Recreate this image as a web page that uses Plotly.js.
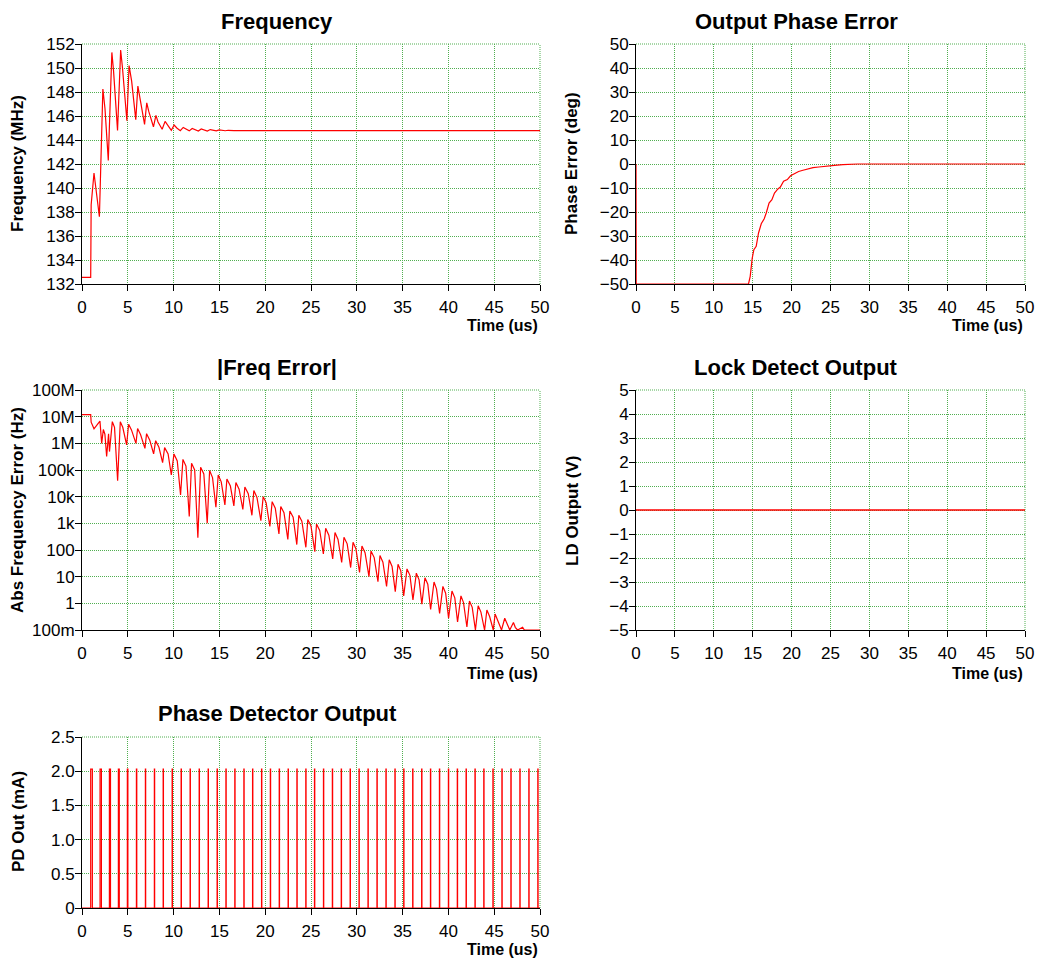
<!DOCTYPE html>
<html>
<head>
<meta charset="utf-8">
<script src="https://cdn.plot.ly/plotly-3.0.1.min.js"></script>
<style>
  html, body { margin: 0; padding: 0; background: #fff; }
  #chart { width: 1039px; height: 963px; }
</style>
</head>
<body>
<div id="chart"></div>
<script>
// ---------------- data ----------------
var xTickVals = [0, 5, 10, 15, 20, 25, 30, 35, 40, 45, 50];

// Frequency (MHz) vs time (us)
var freqT   = [0, 0.95, 1.0, 1.31, 1.9, 2.28, 2.51, 2.87, 3.26, 3.44, 3.88, 4.22, 4.42, 4.9, 5.14, 5.42, 5.87, 6.1, 6.37, 6.83, 7.07, 7.28, 7.8, 8.07, 8.3, 8.75, 9.07, 9.35, 9.75, 10.06, 10.35, 10.73, 11.05, 11.71, 12.03, 12.7, 13.02, 13.68, 14.0, 14.66, 14.98, 15.64, 15.96, 16.6, 50];
var freqMHz = [132.56, 132.56, 138.6, 141.25, 137.6, 148.25, 146.6, 142.3, 151.3, 149.8, 144.8, 151.5, 150.0, 145.6, 150.2, 148.9, 145.7, 148.5, 147.3, 145.3, 147.1, 146.4, 145.1, 146.05, 145.5, 144.9, 145.55, 145.2, 144.8, 145.25, 145.0, 144.78, 145.05, 144.76, 144.96, 144.75, 144.92, 144.75, 144.87, 144.76, 144.84, 144.77, 144.81, 144.78, 144.78];
var freqTicks = [132, 134, 136, 138, 140, 142, 144, 146, 148, 150, 152];

// Output phase error (deg)
var phaseT   = [0, 0.02, 14.46, 14.68, 14.94, 15.15, 15.45, 15.75, 16.1, 16.48, 16.74, 17.1, 17.47, 17.8, 18.24, 18.55, 18.97, 19.45, 19.87, 20.4, 20.9, 21.46, 22.1, 22.75, 23.5, 24.46, 25.5, 26.6, 27.47, 28.5, 50];
var phaseDeg = [0, -50, -50, -46.8, -39.2, -35.7, -34.3, -28.75, -24.9, -22.8, -20.4, -16.25, -14.9, -12.1, -10.4, -9.6, -7.2, -6.5, -4.9, -4.0, -3.1, -2.6, -2.1, -1.5, -1.25, -0.8, -0.55, -0.3, -0.1, 0, 0];
var phaseTicks = [-50, -40, -30, -20, -10, 0, 10, 20, 30, 40, 50];

// |Freq Error| (Hz)
var errT  = [0, 0.95, 1.0, 1.31, 1.96, 2.15, 2.33, 2.5, 2.69, 2.9, 3.0, 3.31, 3.55, 3.89, 4.18, 4.45, 4.87, 5.09, 5.4, 5.89, 6.07, 6.4, 6.87, 7.05, 7.4, 7.82, 8.04, 8.4, 8.8, 9.02, 9.4, 9.75, 10.04, 10.4, 10.76, 11.02, 11.35, 11.71, 11.96, 12.3, 12.65, 12.95, 13.3, 13.67, 13.93, 14.25, 14.62, 14.87, 15.2, 15.6, 15.82, 16.2, 16.58, 16.8, 17.15, 17.56, 17.78, 18.15, 18.55, 18.76, 19.1, 19.53, 19.78, 20.1, 20.51, 20.76, 21.1, 21.5, 21.7, 22.05, 22.47, 22.69, 23.05, 23.45, 23.67, 24.0, 24.44, 24.65, 25.0, 25.42, 25.6, 25.95, 26.35, 26.6, 26.95, 27.37, 27.62, 27.95, 28.35, 28.6, 28.95, 29.33, 29.59, 29.9, 30.3, 30.56, 30.9, 31.33, 31.55, 31.9, 32.31, 32.53, 32.85, 33.25, 33.54, 33.85, 34.2, 34.5, 34.8, 35.12, 35.48, 35.8, 36.13, 36.5, 36.8, 37.1, 37.44, 37.75, 38.06, 38.43, 38.7, 39.04, 39.4, 39.7, 40.02, 40.39, 40.7, 41.0, 41.37, 41.65, 42.02, 42.3, 42.6, 42.95, 43.25, 43.55, 43.95, 44.2, 44.5, 44.9, 45.1, 45.4, 45.8, 46.15, 46.4, 46.7, 47.1, 47.3, 47.55, 48.1, 48.3, 50];
var errHz = [1.2e7, 1.2e7, 6.2e6, 3.5e6, 6.8e6, 1.0e6, 3.3e6, 2.2e6, 3.2e5, 2.3e6, 4.9e5, 6.5e6, 4.0e6, 4.0e4, 6.5e6, 4.0e6, 8.7e5, 5.2e6, 3.2e6, 1.0e6, 3.6e6, 2.1e6, 6.5e5, 2.3e6, 1.3e6, 4.0e5, 1.26e6, 7.1e5, 1.9e5, 6.9e5, 4.0e5, 6.5e4, 4.0e5, 2.2e5, 1.15e4, 2.5e5, 1.4e5, 1.8e3, 1.8e5, 1.0e5, 290, 1.26e5, 7.1e4, 1.0e3, 9.5e4, 5.2e4, 4.0e3, 6.5e4, 3.6e4, 4.9e3, 4.6e4, 2.5e4, 4.5e3, 3.4e4, 1.9e4, 3.3e3, 2.3e4, 1.3e4, 2.0e3, 1.7e4, 9.3e3, 1.26e3, 1.0e4, 6.0e3, 760, 6.5e3, 3.7e3, 400, 4.3e3, 2.5e3, 250, 2.9e3, 1.7e3, 160, 2.0e3, 1.2e3, 126, 1.4e3, 790, 87, 950, 540, 71, 650, 360, 46, 450, 250, 34, 300, 170, 22, 195, 112, 14.5, 141, 79, 10, 91, 52, 6.5, 62, 35, 4.3, 43, 24, 2.75, 29, 16.6, 1.9, 19.5, 11.2, 1.35, 13.5, 7.6, 0.93, 9.1, 5.2, 0.59, 6.3, 3.5, 0.42, 4.3, 2.4, 0.275, 2.9, 1.6, 0.2, 1.9, 1.07, 0.13, 1.23, 0.71, 0.1, 0.81, 0.47, 0.1, 0.56, 0.32, 0.1, 0.4, 0.22, 0.1, 0.275, 0.16, 0.1, 0.19, 0.126, 0.1, 0.126, 0.1, 0.1];
var errTickVals = [0.1, 1, 10, 100, 1e3, 1e4, 1e5, 1e6, 1e7, 1e8];
var errTickText = ['100m', '1', '10', '100', '1k', '10k', '100k', '1M', '10M', '100M'];

// Lock detect output (V)
var ldT = [0, 50];
var ldV = [0, 0];
var ldTicks = [-5, -4, -3, -2, -1, 0, 1, 2, 3, 4, 5];

// Phase detector output pulses (mA)
var pdPulseT = [0.95, 1.97, 2.99, 3.97, 4.95, 5.94, 6.92, 7.9, 8.86, 9.84, 10.82, 11.8, 12.79, 13.77, 14.75, 15.71, 16.68, 17.67, 18.62, 19.6, 20.56, 21.53, 22.5, 23.46, 24.43, 25.38, 26.36, 27.33, 28.3, 29.27, 30.24, 31.22, 32.2, 33.18, 34.16, 35.12, 36.1, 37.08, 38.04, 39.02, 40.0, 40.97, 41.93, 42.9, 43.86, 44.86, 45.84, 46.82, 47.8, 48.78, 49.76];
var pdPulseW = [0.18, 0.15, 0.12, 0.1, 0.06, 0.04, 0.03, 0.03, 0.03, 0.03, 0.03, 0.03, 0.03, 0.03, 0.03, 0.03, 0.03, 0.03, 0.03, 0.03, 0.03, 0.03, 0.03, 0.03, 0.03, 0.03, 0.03, 0.03, 0.03, 0.03, 0.03, 0.03, 0.03, 0.03, 0.03, 0.03, 0.03, 0.03, 0.03, 0.03, 0.03, 0.03, 0.03, 0.03, 0.03, 0.03, 0.03, 0.03, 0.03, 0.03, 0.03];
var pdAmp = 2.03;
var pdTickVals = [0, 0.5, 1.0, 1.5, 2.0, 2.5];
var pdTickText = ['0', '0.5', '1.0', '1.5', '2.0', '2.5'];

// ---------------- build pulse train from the arrays ----------------
var pdX = [0], pdY = [0];
for (var i = 0; i < pdPulseT.length; i++) {
  var t0 = pdPulseT[i], t1 = pdPulseT[i] + pdPulseW[i];
  pdX.push(t0, t0, t1, t1);
  pdY.push(0, pdAmp, pdAmp, 0);
}
pdX.push(50); pdY.push(0);

// ---------------- layout helpers ----------------
var W = 1039, H = 963;
function px(x) { return x / W; }
function py(y) { return 1 - y / H; }

var FONT = 'Liberation Sans, Arial, Helvetica, sans-serif';
var GRID = 'rgb(80,175,80)';
var RED = 'rgb(255,0,0)';

function baseAxis(extra) {
  var a = {
    showline: true, linecolor: 'black', linewidth: 1,
    ticks: 'outside', ticklen: 6, tickcolor: 'black', tickwidth: 1,
    showgrid: true, gridcolor: GRID, gridwidth: 1, griddash: '1px,1px',
    zeroline: false, layer: 'below traces', fixedrange: true,
    tickfont: { family: FONT, size: 17, color: 'black' }
  };
  for (var k in extra) a[k] = extra[k];
  return a;
}
function xAxis(dom, anchor) {
  return baseAxis({ domain: dom, anchor: anchor, range: [0, 50], tickvals: xTickVals, ticklabelstandoff: 2 });
}
function yAxis(extra) {
  extra.ticklabelstandoff = -3;
  return baseAxis(extra);
}

var domXL = [px(82), px(540)], domXR = [px(636), px(1025)];
var domYTop = [py(284), py(44)], domYMid = [py(630), py(390)], domYBot = [py(908), py(737)];

var traces = [
  { x: freqT, y: freqMHz, xaxis: 'x', yaxis: 'y', mode: 'lines', line: { color: RED, width: 1.2 }, hoverinfo: 'skip' },
  { x: phaseT, y: phaseDeg, xaxis: 'x2', yaxis: 'y2', mode: 'lines', line: { color: RED, width: 1.2 }, hoverinfo: 'skip' },
  { x: errT, y: errHz, xaxis: 'x3', yaxis: 'y3', mode: 'lines', line: { color: RED, width: 1.2 }, hoverinfo: 'skip' },
  { x: ldT, y: ldV, xaxis: 'x4', yaxis: 'y4', mode: 'lines', line: { color: RED, width: 1.5 }, hoverinfo: 'skip' },
  { x: pdX, y: pdY, xaxis: 'x5', yaxis: 'y5', mode: 'lines', line: { color: RED, width: 1.2 }, hoverinfo: 'skip' }
];

function ann(text, x, y, size, opts) {
  var a = { text: text, x: px(x), y: py(y), xref: 'paper', yref: 'paper', showarrow: false,
            font: { family: FONT, size: size, color: 'black' }, xanchor: 'center', yanchor: 'middle' };
  if (opts) for (var k in opts) a[k] = opts[k];
  return a;
}

var annotations = [
  ann('<b>Frequency</b>', 277, 21, 22),
  ann('<b>Output Phase Error</b>', 796, 21, 22),
  ann('<b>|Freq Error|</b>', 277, 367, 22),
  ann('<b>Lock Detect Output</b>', 796, 367, 22),
  ann('<b>Phase Detector Output</b>', 277, 713, 22),
  ann('<b>Frequency (MHz)</b>', 18, 164, 17, { textangle: -90 }),
  ann('<b>Phase Error (deg)</b>', 572, 164, 17, { textangle: -90 }),
  ann('<b>Abs Frequency Error (Hz)</b>', 18, 510, 17, { textangle: -90 }),
  ann('<b>LD Output (V)</b>', 572, 511, 17, { textangle: -90 }),
  ann('<b>PD Out (mA)</b>', 18, 822, 17, { textangle: -90 }),
  ann('<b>Time (us)</b>', 540, 326, 16, { xanchor: 'right' }),
  ann('<b>Time (us)</b>', 1025, 326, 16, { xanchor: 'right' }),
  ann('<b>Time (us)</b>', 540, 673, 16, { xanchor: 'right' }),
  ann('<b>Time (us)</b>', 1025, 673, 16, { xanchor: 'right' }),
  ann('<b>Time (us)</b>', 540, 949, 16, { xanchor: 'right' })
];

// dotted frame lines on the top and right edges of every plot area
var shapes = [];
['', '2', '3', '4', '5'].forEach(function (s) {
  var xr = 'x' + s + ' domain', yr = 'y' + s + ' domain';
  var ln = { color: GRID, width: 1, dash: '1px,1px' };
  shapes.push({ type: 'line', xref: xr, yref: yr, x0: 0, x1: 1, y0: 1, y1: 1, line: ln, layer: 'below' });
  shapes.push({ type: 'line', xref: xr, yref: yr, x0: 1, x1: 1, y0: 0, y1: 1, line: ln, layer: 'below' });
});

var layout = {
  width: W, height: H,
  margin: { l: 0, r: 0, t: 0, b: 0, autoexpand: false },
  paper_bgcolor: 'white', plot_bgcolor: 'white',
  showlegend: false,
  font: { family: FONT, color: 'black' },
  xaxis:  xAxis(domXL, 'y'),
  yaxis:  yAxis({ domain: domYTop, anchor: 'x', range: [132, 152], tickvals: freqTicks }),
  xaxis2: xAxis(domXR, 'y2'),
  yaxis2: yAxis({ domain: domYTop, anchor: 'x2', range: [-50, 50], tickvals: phaseTicks }),
  xaxis3: xAxis(domXL, 'y3'),
  yaxis3: yAxis({ domain: domYMid, anchor: 'x3', type: 'log', range: [-1, 8], tickvals: errTickVals, ticktext: errTickText }),
  xaxis4: xAxis(domXR, 'y4'),
  yaxis4: yAxis({ domain: domYMid, anchor: 'x4', range: [-5, 5], tickvals: ldTicks }),
  xaxis5: xAxis(domXL, 'y5'),
  yaxis5: yAxis({ domain: domYBot, anchor: 'x5', range: [0, 2.5], tickvals: pdTickVals, ticktext: pdTickText }),
  shapes: shapes,
  annotations: annotations
};

Plotly.newPlot('chart', traces, layout, { staticPlot: true, displayModeBar: false });
</script>
</body>
</html>
